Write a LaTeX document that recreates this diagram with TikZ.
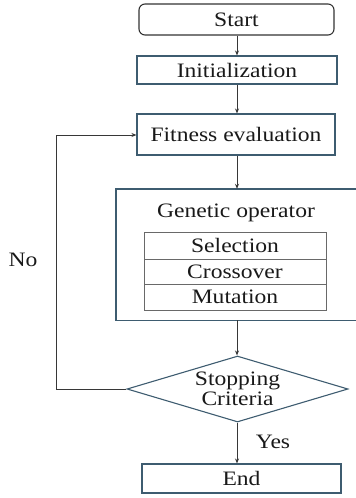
\documentclass[tikz,border=0pt]{standalone}
\usepackage{fontspec}
\setmainfont{Liberation Serif}[FakeStretch=1.15]
\usetikzlibrary{shapes.geometric,arrows.meta}
\definecolor{boxc}{RGB}{62,92,112}
\definecolor{startc}{RGB}{50,50,50}
\definecolor{tabc}{RGB}{105,105,105}
\definecolor{arrc}{RGB}{55,55,55}
\tikzset{
  x=1pt,y=-1pt,
  every node/.style={font=\fontsize{20.5}{21}\selectfont, text=black!90, inner sep=0pt},
  flowbox/.style={draw=boxc, line width=1.1pt, rectangle},
  openbox/.style={draw=boxc, line width=1.4pt},
  tabrow/.style={draw=tabc, line width=1pt, rectangle, minimum width=182pt},
  conn/.style={draw=arrc, line width=0.9pt, -{Stealth[length=5pt,width=4pt]}},
  lbl/.style={font=\fontsize{20.5}{21}\selectfont}
}
\begin{document}
\begin{tikzpicture}
\useasboundingbox (0,0) rectangle (356,498);
\clip (0,0) rectangle (356,498);
\node[flowbox, draw=startc, rounded corners=6pt, minimum width=195pt, minimum height=31pt] (start) at (236.5,19.5) {Start};
\node[flowbox, minimum width=200pt, minimum height=28pt] (init) at (237,70) {Initialization};
\node[flowbox, minimum width=198pt, minimum height=41pt] (fit) at (236,134.5) {Fitness evaluation};
\node[rectangle, minimum width=264pt, minimum height=131pt] (gop) at (248,254.5) {};
\draw[openbox] (gop.north east) -- (gop.north west) -- (gop.south west) -- (gop.south east);
\node (goplbl) at (236,213) {Genetic operator};
\node[tabrow, minimum height=27pt] (sel) at (235,245.5) {Selection};
\node[tabrow, minimum height=25pt] (cro) at (235,271.5) {Crossover};
\node[tabrow, minimum height=26pt] (mut) at (235,297) {Mutation};
\node[flowbox, diamond, minimum width=221pt, minimum height=66pt, aspect=3.35, align=center, font=\fontsize{20.5}{20}\selectfont] (stop) at (237.5,389) {Stopping\\Criteria};
\node[flowbox, minimum width=199pt, minimum height=29pt] (end) at (241.5,478.5) {End};
\coordinate (lb) at (56,389);
\coordinate (lt) at (56,135);
\node[lbl] (no) at (23,260) {No};
\node[lbl] (yes) at (273,442) {Yes};
\draw[conn] (start.south -| 237,0) -- (init.north -| 237,0);
\draw[conn] (init.south -| 237,0) -- (fit.north -| 237,0);
\draw[conn] (fit.south -| 237,0) -- (gop.north -| 237,0);
\draw[conn] (gop.south -| 237,0) -- (stop.north -| 237,0);
\draw[conn] (stop.south -| 237,0) -- (end.north -| 237,0);
\draw[conn] (stop.west) -- (lb) -- (lt) -- (fit.west |- lt);
\end{tikzpicture}
\end{document}
